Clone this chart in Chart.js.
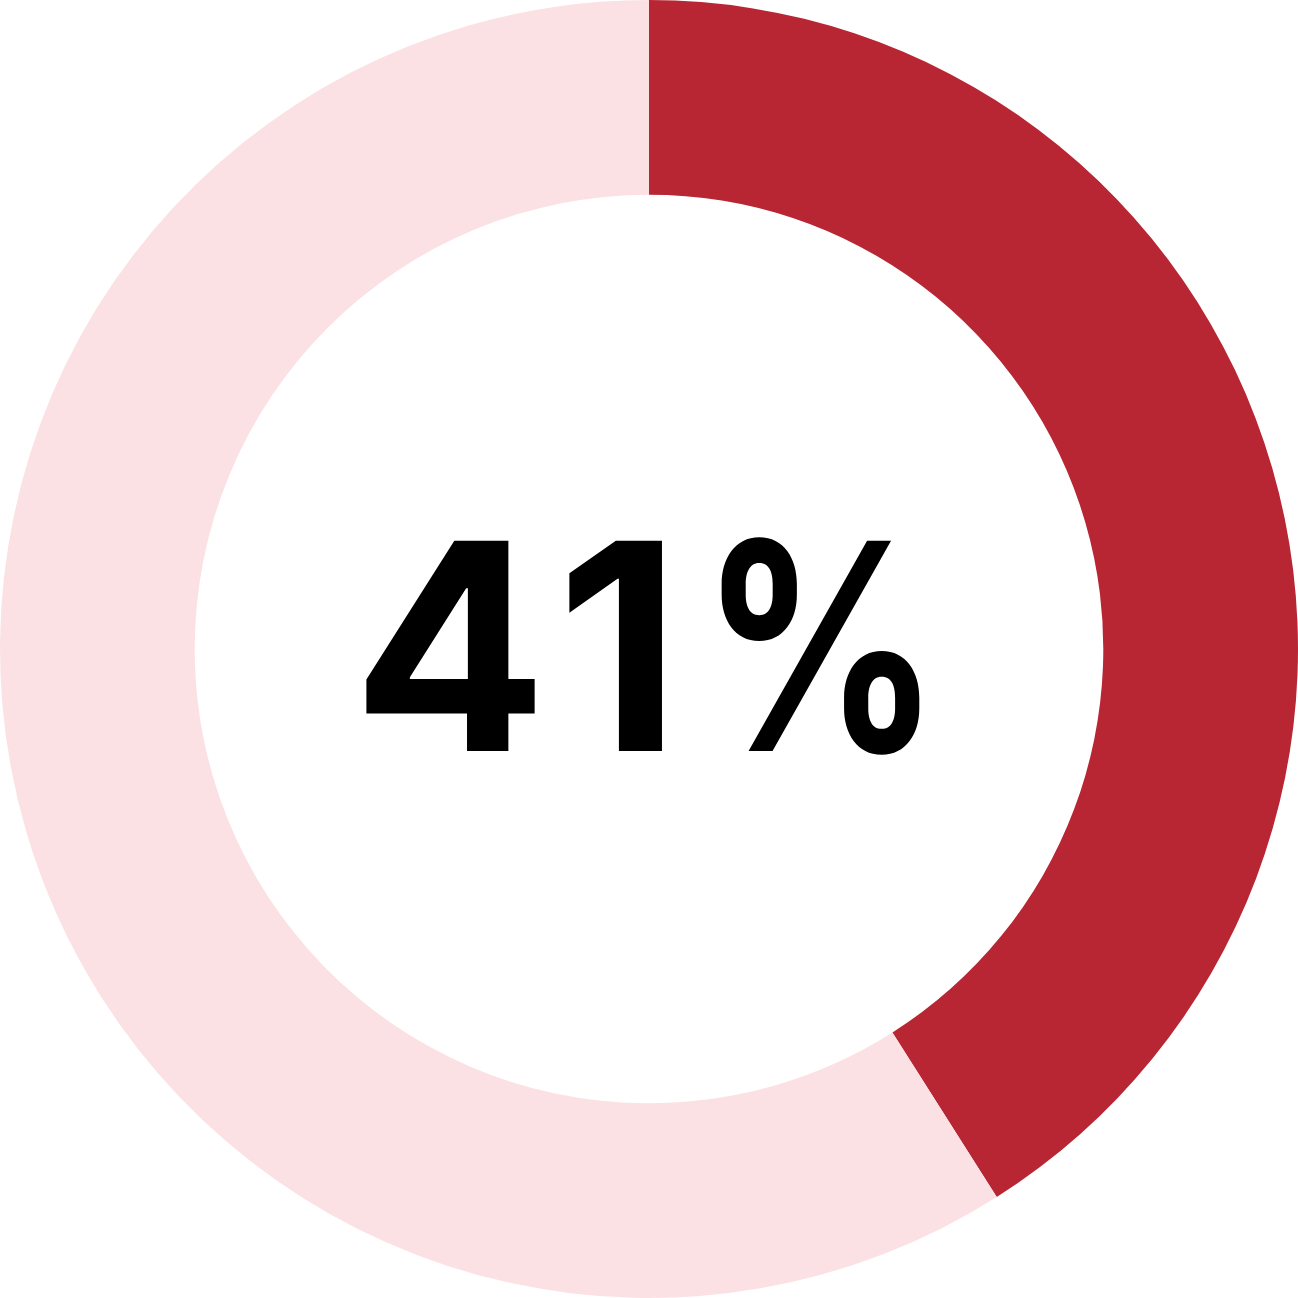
<!DOCTYPE html>
<html>
<head>
<meta charset="utf-8">
<script src="https://cdn.jsdelivr.net/npm/chart.js@4"></script>
<style>
  html, body { margin: 0; padding: 0; background: #fff; }
  #wrap { width: 1298px; height: 1298px; }
</style>
</head>
<body>
<div id="wrap"><canvas id="donut" width="1298" height="1298"></canvas></div>
<script>
// Share of the total, the rest is the remainder
const labels = ['Share', 'Rest'];
const values = [41, 59];
const centerLabel = '41%';

const colors = {
  red: '#B82533',
  pink: '#FCE1E4'
};

// Draws the big percentage in the middle of the hole,
// with a bit of extra tracking and a narrower % sign
const centerText = {
  id: 'centerText',
  afterDraw(chart) {
    const { ctx, chartArea } = chart;
    const cx = (chartArea.left + chartArea.right) / 2;
    const cy = (chartArea.top + chartArea.bottom) / 2;
    const gap = 28;
    const pctScale = 0.82;
    ctx.save();
    ctx.font = 'bold 289px Inter, Roboto, sans-serif';
    ctx.fillStyle = '#000';
    ctx.textAlign = 'left';
    ctx.textBaseline = 'alphabetic';
    const chars = centerLabel.split('');
    const boxes = chars.map(ch => {
      const m = ctx.measureText(ch);
      const sx = ch === '%' ? pctScale : 1;
      return { ch, left: m.actualBoundingBoxLeft, w: (m.actualBoundingBoxLeft + m.actualBoundingBoxRight) * sx, sx };
    });
    const total = boxes.reduce((s, b) => s + b.w, 0) + gap * (boxes.length - 1) + 26;
    let x = cx - 5 - total / 2;
    const baseY = cy + 102;
    boxes.forEach((b, i) => {
      ctx.save();
      ctx.translate(x, baseY);
      ctx.scale(b.sx, 1);
      ctx.fillText(b.ch, b.left, 0);
      ctx.restore();
      x += b.w + gap + (i === 1 ? 26 : 0);
    });
    ctx.restore();
  }
};

new Chart(document.getElementById('donut').getContext('2d'), {
  type: 'doughnut',
  data: {
    labels: labels,
    datasets: [{
      data: values,
      backgroundColor: [colors.red, colors.pink],
      borderWidth: 0
    }]
  },
  options: {
    responsive: false,
    devicePixelRatio: 1,
    animation: false,
    cutout: '70%',
    layout: { padding: 0 },
    plugins: {
      legend: { display: false },
      tooltip: { enabled: false }
    }
  },
  plugins: [centerText]
});
</script>
</body>
</html>
